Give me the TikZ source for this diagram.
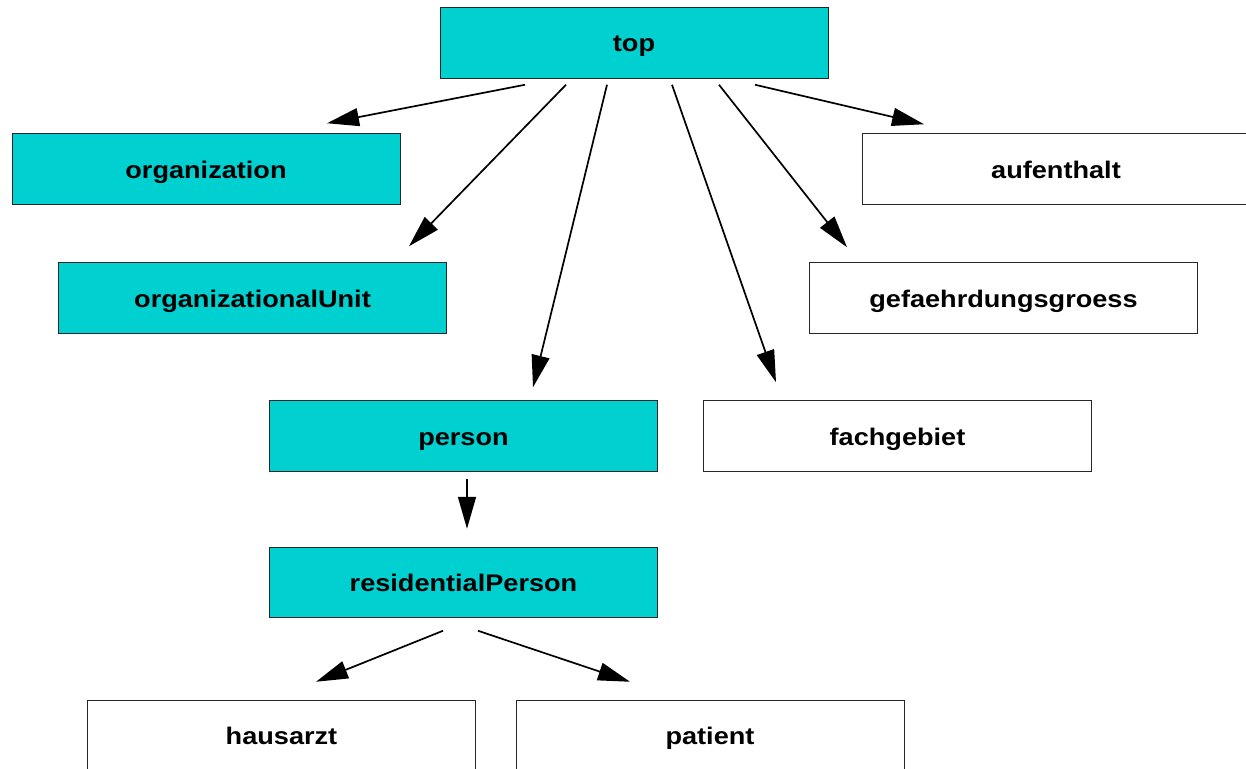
\documentclass[tikz,border=0pt]{standalone}
\usepackage{fontspec}
\setmainfont{Liberation Sans}[FakeStretch=1.13]
\usetikzlibrary{arrows.meta}
\definecolor{classfill}{RGB}{0,208,208}
\tikzset{
  classbox/.style={draw=black!85, line width=1pt, minimum width=388pt, minimum height=70.5pt,
    inner sep=0pt, text height=18pt, text depth=0pt,
    font=\fontsize{24}{28}\selectfont\bfseries},
  core/.style={classbox, fill=classfill},
  plain/.style={classbox, fill=white},
  edge/.style={line width=1.7pt, -{Triangle[length=32pt,width=18pt]}}
}
\begin{document}
\begin{tikzpicture}[x=1pt,y=-1pt]
\useasboundingbox (0,0) rectangle (1246,768);
\clip (0,0) rectangle (1246,768);
\fill[white] (0,0) rectangle (1246,768);

% class nodes
\node[core]  (top)   at (634,43)     {top};
\node[core]  (org)   at (206,169)    {organization};
\node[core]  (ou)    at (252.5,298)  {organizationalUnit};
\node[core]  (pers)  at (463.5,436)  {person};
\node[core]  (res)   at (463.5,582.5){residentialPerson};
\node[plain] (haus)  at (281.5,735.5){hausarzt};
\node[plain] (pat)   at (710,735.5)  {patient};
\node[plain] (auf)   at (1056,169)   {aufenthalt};
\node[plain] (gef)   at (1003.5,298) {gefaehrdungsgroess};
\node[plain] (fach)  at (897.5,436)  {fachgebiet};

% inheritance edges
\draw[edge] ([xshift=-109pt,yshift=-6pt]top.south) -- ([xshift=121pt,yshift=10pt]org.north);
\draw[edge] ([xshift=-68pt,yshift=-6pt]top.south)  -- ([xshift=156.5pt,yshift=16pt]ou.north);
\draw[edge] ([xshift=-27pt,yshift=-6pt]top.south)  -- ([xshift=69.5pt,yshift=13pt]pers.north);
\draw[edge] ([xshift=38pt,yshift=-6pt]top.south)   -- ([xshift=-121.5pt,yshift=18pt]fach.north);
\draw[edge] ([xshift=85pt,yshift=-6pt]top.south)   -- ([xshift=-156.5pt,yshift=15pt]gef.north);
\draw[edge] ([xshift=121pt,yshift=-6pt]top.south)  -- ([xshift=-132pt,yshift=9pt]auf.north);
\draw[edge] ([xshift=3.5pt,yshift=-7pt]pers.south) -- ([xshift=3.5pt,yshift=18pt]res.north);
\draw[edge] ([xshift=-20.5pt,yshift=-12.5pt]res.south) -- ([xshift=34.5pt,yshift=18pt]haus.north);
\draw[edge] ([xshift=14.5pt,yshift=-12.5pt]res.south)  -- ([xshift=-80pt,yshift=18pt]pat.north);
\end{tikzpicture}
\end{document}
